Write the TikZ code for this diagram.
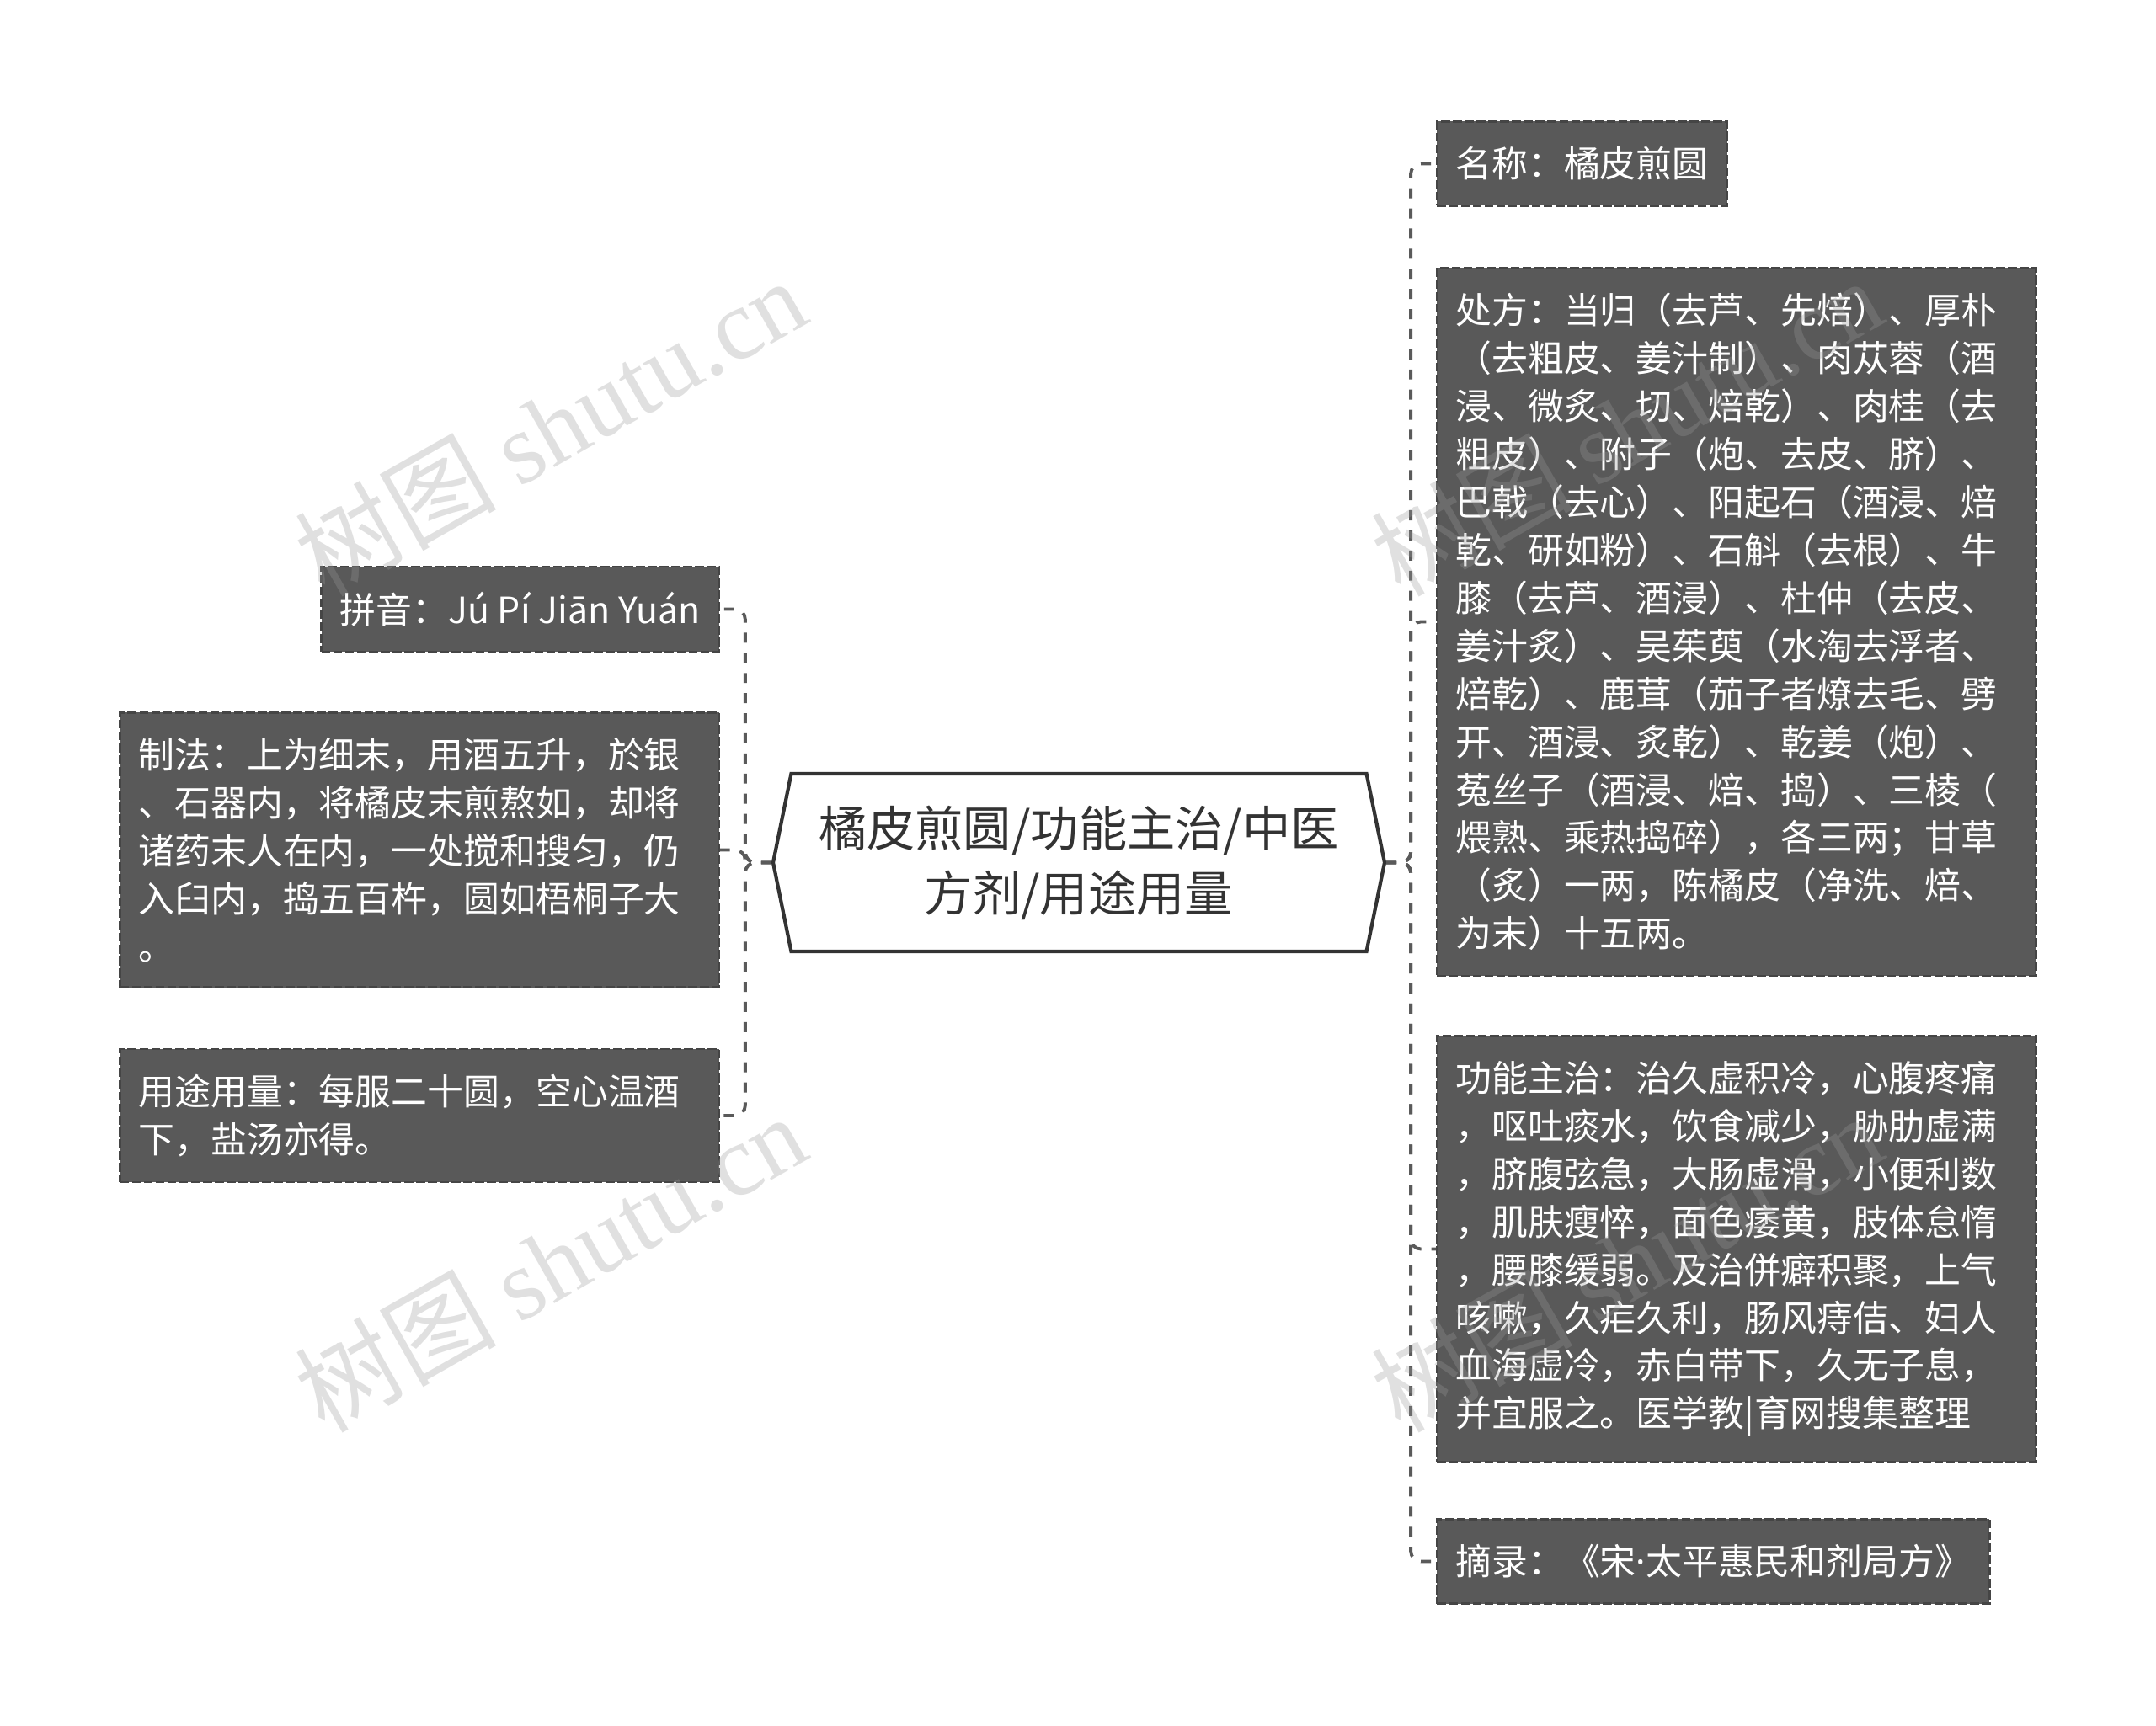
\documentclass[tikz,border=0pt]{standalone}
\usepackage{fontspec}
\setmainfont{Noto Sans CJK SC}
\newfontfamily\wmserif{Liberation Serif}
\newfontfamily\dotfont{Noto Sans}
\usetikzlibrary{positioning, shapes.symbols}

\definecolor{boxfill}{HTML}{595959}
\definecolor{boxline}{HTML}{454545}
\definecolor{linkgray}{HTML}{5A5A5A}
\definecolor{hubline}{HTML}{333333}
\definecolor{wmgray}{HTML}{9A9A9A}

\tikzset{
  leaf/.style={draw=boxline, fill=boxfill, line width=0.8pt,
    dash pattern=on 3pt off 1pt, text=white, align=left,
    inner xsep=0.22cm, inner ysep=0.3cm,
    font=\fontsize{12.2pt}{16.2pt}\selectfont},
  wideleaf/.style={leaf, text width=6.67cm},
  link/.style={draw=linkgray, line width=1.1pt,
    dash pattern=on 3.4pt off 3.4pt, rounded corners=0.12cm},
  hub/.style={signal, signal to=west and east, signal pointer angle=157,
    draw=hubline, line width=1.2pt, fill=white, text=hubline, align=center,
    minimum width=7.26cm, minimum height=2.11cm,
    font=\fontsize{16.3pt}{21.9pt}\selectfont},
  wmark/.style={text=wmgray, opacity=0.3, rotate=29.6, inner sep=0pt,
    font=\fontsize{34pt}{34pt}\selectfont}
}

\begin{document}
\begin{tikzpicture}
    \fill[white] (0,0) rectangle (25.60,20.49);
    \useasboundingbox (0,0) rectangle (25.60,20.49);

    % centre
    \node[hub] (hub) at (12.81,10.245) {橘皮煎圆/功能主治/中医\\方剂/用途用量};

    % right side
    \node[leaf, anchor=west] (name) at (17.05,18.545) {名称：橘皮煎圆};
    \node[wideleaf, anchor=west] (recipe) at (17.05,13.105) {处方：当归（去芦、先焙）、厚朴\\（去粗皮、姜汁制）、肉苁蓉（酒\\浸、微炙、切、焙乾）、肉桂（去\\粗皮）、附子（炮、去皮、脐）、\\巴戟（去心）、阳起石（酒浸、焙\\乾、研如粉）、石斛（去根）、牛\\膝（去芦、酒浸）、杜仲（去皮、\\姜汁炙）、吴茱萸（水淘去浮者、\\焙乾）、鹿茸（茄子者燎去毛、劈\\开、酒浸、炙乾）、乾姜（炮）、\\菟丝子（酒浸、焙、捣）、三棱（\\煨熟、乘热捣碎），各三两；甘草\\（炙）一两，陈橘皮（净洗、焙、\\为末）十五两。};
    \node[wideleaf, anchor=west] (effect) at (17.05,5.655) {功能主治：治久虚积冷，心腹疼痛\\，呕吐痰水，饮食减少，胁肋虚满\\，脐腹弦急，大肠虚滑，小便利数\\，肌肤瘦悴，面色痿黄，肢体怠惰\\，腰膝缓弱。及治併癖积聚，上气\\咳嗽，久疟久利，肠风痔佶、妇人\\血海虚冷，赤白带下，久无子息，\\并宜服之。医学教|育网搜集整理};
    \node[leaf, anchor=west] (source) at (17.05,1.945) {摘录：《宋{\dotfont ·}太平惠民和剂局方》};

    % left side
    \node[leaf, anchor=east] (pinyin) at (8.55,13.255) {拼音：Jú Pí Jiān Yuán};
    \node[wideleaf, anchor=east] (method) at (8.55,10.395) {制法：上为细末，用酒五升，於银\\、石器内，将橘皮末煎熬如，却将\\诸药末人在内，一处搅和搜匀，仍\\入臼内，捣五百杵，圆如梧桐子大\\。};
    \node[wideleaf, anchor=east] (usage) at (8.55,7.24) {用途用量：每服二十圆，空心温酒\\下，盐汤亦得。};

    % links
    \foreach \leafnode in {name, recipe, effect, source}
      \draw[link] (hub.east) -- ++(0.29,0) |- (\leafnode.west);
    \foreach \leafnode in {pinyin, method, usage}
      \draw[link] (hub.west) -- ++(-0.31,0) |- (\leafnode.east);

    % watermarks
    \node[wmark] (wm1) at (6.53,15.43) {树图 {\wmserif shutu.cn}};
    \node[wmark] (wm2) at (6.53,5.50) {树图 {\wmserif shutu.cn}};
    \node[wmark] (wm3) at (19.31,15.43) {树图 {\wmserif shutu.cn}};
    \node[wmark] (wm4) at (19.31,5.50) {树图 {\wmserif shutu.cn}};
\end{tikzpicture}
\end{document}
